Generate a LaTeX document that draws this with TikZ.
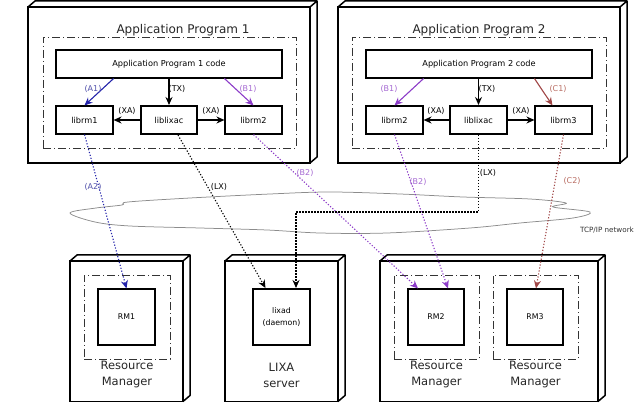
\documentclass[tikz,border=0pt]{standalone}
\usepackage{fontspec}
\setmainfont{DejaVu Sans}
\usetikzlibrary{arrows.meta}

\definecolor{ablue}{RGB}{35,35,170}
\definecolor{bpurple}{RGB}{140,60,200}
\definecolor{cred}{RGB}{160,70,70}
\definecolor{alab}{RGB}{80,80,170}
\definecolor{blab}{RGB}{165,105,210}
\definecolor{clab}{RGB}{185,110,100}

\begin{document}
\begin{tikzpicture}[x=1pt,y=-1pt,
  outerbox/.style={draw,line width=1.5pt,outer sep=0pt,inner sep=0pt},
  group/.style={draw=black!80,line width=0.75pt,dash pattern=on 8pt off 3pt on 1pt off 3pt,inner sep=0pt},
  comp/.style={draw,line width=1.1pt,fill=white,inner sep=0pt,font=\fontsize{8.2}{9}\selectfont},
  core/.style={comp,line width=2pt},
  title/.style={font=\fontsize{12}{14}\selectfont,text=black!85},
  caption/.style={align=center,font=\fontsize{11.5}{16}\selectfont,text=black!85},
  lbl/.style={font=\fontsize{8}{9}\selectfont,inner sep=0pt},
  call/.style={line width=1.1pt,-{Stealth[length=8pt,width=7pt]}},
  remote/.style={call,dash pattern=on 1.2pt off 1.8pt},
]
   \useasboundingbox (0,0) rectangle (640,403);

   % TCP/IP cloud
   \draw[black!45,line width=0.75pt] plot[smooth cycle,tension=0.55] coordinates {
     (70,213) (96,208) (122,205) (128,202) (190,198) (270,194) (330,192)
     (400,194) (463,197) (530,199) (566,203) (553,207) (590,212) (573,218)
     (520,223) (470,228) (387,233) (320,233) (267,230) (200,228) (130,226) (95,222)};
   \node[lbl,font=\fontsize{7.2}{8}\selectfont,text=black!80] (net) at (607,230) {TCP/IP network};

   % hosts
   \node[outerbox,minimum width=282pt,minimum height=156pt] (app1) at (169,85) {};
   \node[outerbox,minimum width=282pt,minimum height=156pt] (app2) at (479,85) {};
   \node[outerbox,minimum width=113pt,minimum height=140.5pt] (rmhostA) at (126.5,331.25) {};
   \node[outerbox,minimum width=113pt,minimum height=140.5pt] (lixahost) at (281.5,331.25) {};
   \node[outerbox,minimum width=218pt,minimum height=140.5pt] (rmhostB) at (489,331.25) {};
   \foreach \n in {app1,app2,rmhostA,lixahost,rmhostB}
     \draw[line width=1.5pt,line join=round] (\n.north west) -- ++(7,-6) -- ([shift={(7,-6)}]\n.north east)
       -- ([shift={(7,-6)}]\n.south east) -- (\n.south east) (\n.north east) -- ++(7,-6);

   % groups
   \node[group,minimum width=253pt,minimum height=111pt] (grp1) at (169.5,92.5) {};
   \node[group,minimum width=254pt,minimum height=111pt] (grp2) at (479,92.5) {};
   \node[group,minimum width=86pt,minimum height=84pt] (grpA) at (127,317) {};
   \node[group,minimum width=85pt,minimum height=84pt] (grpB) at (436.5,317) {};
   \node[group,minimum width=85pt,minimum height=84pt] (grpC) at (535.5,317) {};

   \node[title] (title1) at (183,30) {Application Program 1};
   \node[title] (title2) at (479,30) {Application Program 2};

   % application program 1
   \node[comp,minimum width=226pt,minimum height=28pt] (code1) at (169,64) {Application Program 1 code};
   \node[comp,minimum width=57pt,minimum height=28pt] (librmA) at (84.5,120) {librm1};
   \node[core,minimum width=56pt,minimum height=28pt] (lixac1) at (169,120) {liblixac};
   \node[comp,minimum width=57pt,minimum height=28pt] (librmB) at (253.5,120) {librm2};

   % application program 2
   \node[comp,minimum width=226pt,minimum height=28pt] (code2) at (479,64) {Application Program 2 code};
   \node[comp,minimum width=57pt,minimum height=28pt] (librmB2) at (394.5,120) {librm2};
   \node[core,minimum width=57pt,minimum height=28pt] (lixac2) at (478.5,120) {liblixac};
   \node[comp,minimum width=57pt,minimum height=28pt] (librmC) at (563.5,120) {librm3};

   % resource managers, LIXA server
   \node[comp,minimum width=57pt,minimum height=56pt,font=\fontsize{7.8}{9}\selectfont] (rm1) at (126.5,317) {RM1};
   \node[core,minimum width=57pt,minimum height=56pt,align=center,font=\fontsize{7.8}{11.5}\selectfont] (lixad) at (281.5,317) {lixad\\(daemon)};
   \node[comp,minimum width=56pt,minimum height=56pt,font=\fontsize{7.8}{9}\selectfont] (rm2) at (436,317) {RM2};
   \node[comp,minimum width=56pt,minimum height=56pt,font=\fontsize{7.8}{9}\selectfont] (rm3) at (535,317) {RM3};

   \node[caption] (capA) at (127,375) {Resource\\Manager};
   \node[caption] (capL) at (281.5,375) {LIXA\\server};
   \node[caption] (capB) at (436.5,375) {Resource\\Manager};
   \node[caption] (capC) at (535.5,375) {Resource\\Manager};

   % local calls
   \draw[call,ablue] (code1.south -| librmA.east) -- (librmA.north);
   \draw[call] (code1.south) -- (lixac1.north);
   \draw[call,bpurple] (code1.south -| librmB.west) -- (librmB.north);
   \draw[call] (lixac1.west) -- (librmA.east);
   \draw[call] (lixac1.east) -- (librmB.west);

   \draw[call,bpurple] (code2.south -| librmB2.east) -- (librmB2.north);
   \draw[call] (code2.south -| lixac2.north) -- (lixac2.north);
   \draw[call,cred] (code2.south -| librmC.west) -- ([xshift=-11pt]librmC.north);
   \draw[call] (lixac2.west) -- (librmB2.east);
   \draw[call] (lixac2.east) -- (librmC.west);

   % network calls
   \coordinate (lxbend) at (296,212);
   \draw[remote,ablue] (librmA.south) -- (rm1.north);
   \draw[remote] ([xshift=9pt]lixac1.south) -- ([xshift=-16pt]lixad.north);
   \draw[remote,bpurple] (librmB.south) -- ([xshift=-18pt]rm2.north);
   \draw[remote,bpurple] (librmB2.south) -- ([xshift=12pt]rm2.north);
   \draw[remote] (lixac2.south) |- (lxbend) -- (lxbend |- lixad.north);
   \draw[remote,cred] (librmC.south) -- ([xshift=1pt]rm3.north);

   % labels
   \node[lbl,text=alab] (la1) at (93,89) {(A1)};
   \node[lbl] (ltx1) at (177,89) {(TX)};
   \node[lbl,text=blab] (lb1) at (248,89) {(B1)};
   \node[lbl] (lxa1) at (127,111) {(XA)};
   \node[lbl] (lxa2) at (211,111) {(XA)};
   \node[lbl,text=blab] (lb1b) at (389,89) {(B1)};
   \node[lbl] (ltx2) at (487,89) {(TX)};
   \node[lbl,text=clab] (lc1) at (558,89) {(C1)};
   \node[lbl] (lxa3) at (436,111) {(XA)};
   \node[lbl] (lxa4) at (521,111) {(XA)};
   \node[lbl,text=alab] (la2) at (93,187) {(A2)};
   \node[lbl] (llx1) at (219,187) {(LX)};
   \node[lbl,text=blab] (lb2) at (305,173) {(B2)};
   \node[lbl] (llx2) at (488,173) {(LX)};
   \node[lbl,text=blab] (lb2b) at (418,182) {(B2)};
   \node[lbl,text=clab] (lc2) at (572,181) {(C2)};
\end{tikzpicture}
\end{document}
